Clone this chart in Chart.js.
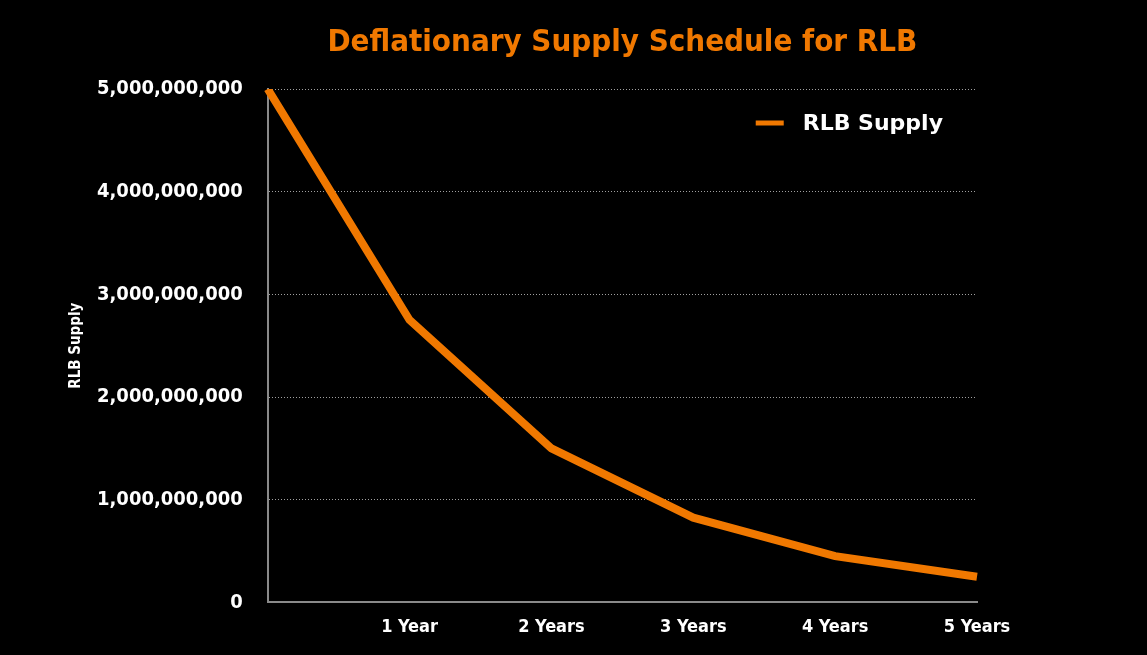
<!DOCTYPE html>
<html lang="en">
<head>
    <meta charset="UTF-8">
    <title>Deflationary Supply Schedule for RLB</title>
    <script src="https://cdn.jsdelivr.net/npm/chart.js"></script>
    <style>
        html, body { margin: 0; padding: 0; background: #000; }
        #wrap { width: 1147px; height: 655px; }
    </style>
</head>
<body>
    <div id="wrap"><canvas id="chart"></canvas></div>
    <script>
        const periods = ['', '1 Year', '2 Years', '3 Years', '4 Years', '5 Years'];
        const supply = [5000000000, 2750000000, 1500000000, 825000000, 450000000, 250000000];
        const yTicks = [0, 1000000000, 2000000000, 3000000000, 4000000000, 5000000000];

        const orange = '#f07800';
        const font = "'DejaVu Sans Condensed', 'DejaVu Sans', sans-serif";
        const titleText = 'Deflationary Supply Schedule for RLB';

        // title centred over the plot area, legend inside its top right corner
        const headerPlugin = {
            id: 'header',
            afterDraw(chart) {
                const { ctx, chartArea } = chart;
                ctx.save();
                ctx.fillStyle = orange;
                ctx.font = `bold 31px ${font}`;
                ctx.textAlign = 'center';
                ctx.textBaseline = 'middle';
                ctx.fillText(titleText, (chartArea.left + chartArea.right) / 2, 43);

                const ds = chart.data.datasets[0];
                const textRight = chartArea.right - 34;
                const y = 123;
                ctx.font = "bold 22px 'DejaVu Sans', sans-serif";
                ctx.textAlign = 'right';
                ctx.fillStyle = '#fff';
                ctx.fillText(ds.label, textRight, y + 1);
                const w = ctx.measureText(ds.label).width;
                ctx.fillStyle = ds.borderColor;
                ctx.fillRect(textRight - w - 19 - 28, y - 2.5, 28, 5);
                ctx.restore();
            }
        };

        const ctx = document.getElementById('chart').getContext('2d');
        new Chart(ctx, {
            type: 'line',
            data: {
                labels: periods,
                datasets: [{
                    label: 'RLB Supply',
                    data: supply,
                    borderColor: orange,
                    backgroundColor: orange,
                    borderWidth: 8,
                    pointRadius: 0,
                    tension: 0,
                }]
            },
            options: {
                responsive: true,
                maintainAspectRatio: false,
                animation: false,
                layout: { padding: { left: 63, right: 170, top: 89, bottom: 3 } },
                plugins: {
                    legend: { display: false },
                    tooltip: { enabled: false },
                },
                scales: {
                    x: {
                        offset: false,
                        grid: { display: false, drawTicks: false },
                        border: { display: true, color: '#8a8a8a', width: 2 },
                        ticks: {
                            color: '#fff',
                            font: { family: font, size: 18, weight: 'bold' },
                            padding: 14,
                            maxRotation: 0,
                            autoSkip: false,
                        },
                    },
                    y: {
                        min: 0,
                        max: 5000000000,
                        afterBuildTicks: (axis) => { axis.ticks = yTicks.map(v => ({ value: v })); },
                        grid: {
                            color: '#a0a0a0',
                            lineWidth: 1,
                            drawTicks: false,
                        },
                        border: { display: true, color: '#8a8a8a', width: 2, dash: [1, 2] },
                        ticks: {
                            color: '#fff',
                            font: { family: font, size: 20, weight: 'bold' },
                            padding: 25,
                            callback: (v) => Number(v).toLocaleString('en-US'),
                        },
                        title: {
                            display: true,
                            text: 'RLB Supply',
                            color: '#fff',
                            font: { family: font, size: 15, weight: 'bold' },
                            padding: { top: 4, bottom: -13 },
                        },
                    },
                },
            },
            plugins: [headerPlugin],
        });
    </script>
</body>
</html>
